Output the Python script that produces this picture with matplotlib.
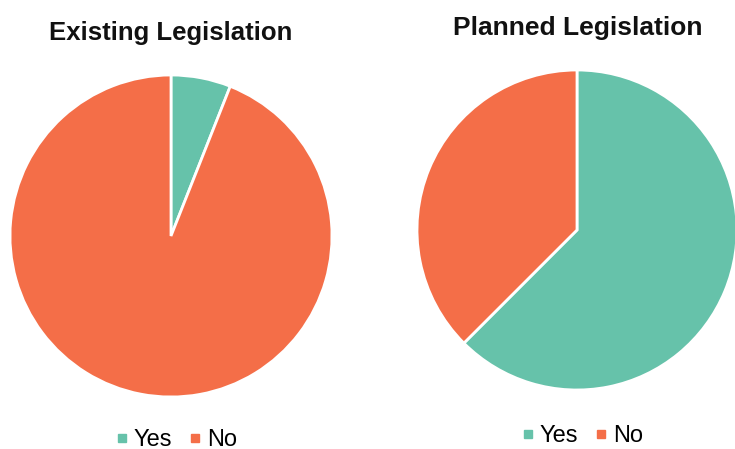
import matplotlib
matplotlib.use("Agg")
import matplotlib.pyplot as plt
from matplotlib.lines import Line2D

labels = ["Yes", "No"]
existing_share = [6, 94]
planned_share = [62.5, 37.5]
colors = ["#66C2AA", "#F46E48"]

W, H = 735, 449
fig = plt.figure(figsize=(W / 100, H / 100), dpi=100)
fig.patch.set_facecolor("white")


def pie_axes(cx, cy, r):
    # axes box in pixels, pie radius fills it
    return fig.add_axes([(cx - r) / W, (H - cy - r) / H, 2 * r / W, 2 * r / H])


def draw_pie(ax, values):
    wedges, _ = ax.pie(values, colors=colors, startangle=90, counterclock=False,
                       radius=1.0, wedgeprops=dict(edgecolor="white", linewidth=2))
    for w in wedges:
        w.set_clip_on(False)
    ax.set_xlim(-1, 1)
    ax.set_ylim(-1, 1)
    ax.set_aspect("equal")
    ax.axis("off")


ax1 = pie_axes(171, 236, 161)
draw_pie(ax1, existing_share)
ax2 = pie_axes(577, 230, 160)
draw_pie(ax2, planned_share)

fig.text(171 / W, 1 - 33 / H, "Existing Legislation", ha="center", va="center",
         fontsize=18.5, fontweight="bold", family="Liberation Sans", color="#111111")
fig.text(578 / W, 1 - 28 / H, "Planned Legislation", ha="center", va="center",
         fontsize=19, fontweight="bold", family="Liberation Sans", color="#111111")

handles = [Line2D([], [], marker="s", linestyle="none", markersize=6,
                  markerfacecolor=c, markeredgecolor=c) for c in colors]
for x, y in [(177, 440), (583, 436)]:
    fig.legend(handles, labels, loc="center", bbox_to_anchor=(x / W, 1 - y / H),
               ncol=2, frameon=False, handletextpad=0.3, columnspacing=0.8,
               handlelength=0.4, borderpad=0,
               prop=dict(family="Liberation Sans", size=17))

fig.savefig("out.png", dpi=100, facecolor="white")
